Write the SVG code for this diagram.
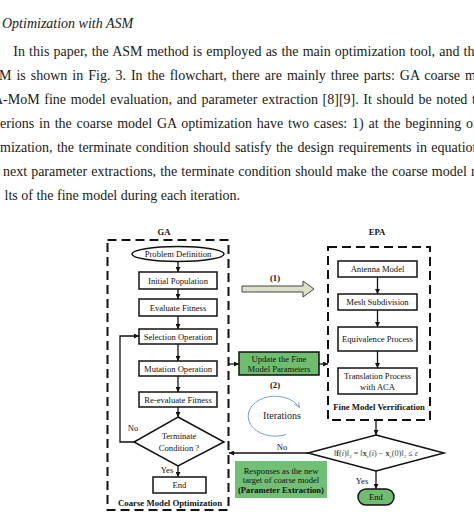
<svg xmlns="http://www.w3.org/2000/svg" width="474" height="520" viewBox="0 0 474 520">
<style>
.para{font-family:"Liberation Serif","Times New Roman",serif;font-size:14px;fill:#1a1a1a}
.t{font-family:"Liberation Serif","Times New Roman",serif;font-size:8.6px;fill:#111;text-anchor:middle}
.b{font-weight:bold}
.box{fill:#fff;stroke:#111;stroke-width:1.5}
.dash{fill:none;stroke:#111;stroke-width:2;stroke-dasharray:9 5}
.ln{fill:none;stroke:#111;stroke-width:1.3}
.green{fill:#6fbd6f;stroke:#111;stroke-width:1.5}
</style>
<defs>
<marker id="ah" viewBox="0 0 10 10" refX="10" refY="5" markerWidth="5" markerHeight="5" orient="auto" markerUnits="userSpaceOnUse">
<path d="M0,0 L10,5 L0,10 Z" fill="#111"/>
</marker>
<marker id="ahb" viewBox="0 0 10 10" refX="9" refY="5" markerWidth="6" markerHeight="6" orient="auto" markerUnits="userSpaceOnUse">
<path d="M0,1 L9,5 L0,9" fill="none" stroke="#6f93c4" stroke-width="1.2"/>
</marker>
</defs>
<rect width="474" height="520" fill="#fff"/>
<g id="paragraph">
<text class="para" x="2" y="28" font-style="italic">Optimization with ASM</text>
<text class="para" x="13.3" y="56" word-spacing="0.65">In this paper, the ASM method is employed as the main optimization tool, and the</text>
<text class="para" x="-1" y="80" word-spacing="1.5">M is shown in Fig. 3. In the flowchart, there are mainly three parts: GA coarse model</text>
<text class="para" x="-7" y="104" word-spacing="1.1">A-MoM fine model evaluation, and parameter extraction [8][9]. It should be noted that</text>
<text class="para" x="0" y="128" word-spacing="1.3">erions in the coarse model GA optimization have two cases: 1) at the beginning of</text>
<text class="para" x="0" y="152" word-spacing="0.95">mization, the terminate condition should satisfy the design requirements in equation</text>
<text class="para" x="3" y="176" word-spacing="0.55">next parameter extractions, the terminate condition should make the coarse model r</text>
<text class="para" x="4.5" y="200">lts of the fine model during each iteration.</text>
</g>
<g id="ga-frame">
<rect class="dash" x="107.5" y="240" width="121" height="270"/>
<text class="t b" x="164" y="235">GA</text>
<text class="t b" x="170" y="505.5" style="font-size:8.75px">Coarse Model Optimization</text>
</g>
<g id="epa-frame">
<rect class="dash" x="328" y="247" width="102" height="173"/>
<text class="t b" x="377" y="235">EPA</text>
<text class="t b" x="379" y="410" style="font-size:8.7px">Fine Model Verrification</text>
</g>
<g id="problem-definition"><ellipse class="box" cx="178" cy="254" rx="46" ry="7.5"/><text class="t" x="178" y="257">Problem Definition</text></g>
<g id="initial-population"><rect class="box" x="139" y="272" width="78" height="17"/><text class="t" x="178" y="283.5">Initial Population</text></g>
<g id="evaluate-fitness"><rect class="box" x="139" y="299" width="78" height="17"/><text class="t" x="178" y="310.5">Evaluate Fitness</text></g>
<g id="selection-operation"><rect class="box" x="139" y="329" width="78" height="15"/><text class="t" x="178" y="339.5">Selection Operation</text></g>
<g id="mutation-operation"><rect class="box" x="139" y="361" width="78" height="15"/><text class="t" x="178" y="371.5">Mutation Operation</text></g>
<g id="reevaluate-fitness"><rect class="box" x="139" y="392" width="78" height="15"/><text class="t" x="178" y="402.5">Re-evaluate Fitness</text></g>
<g id="terminate-condition"><polygon class="box" points="178,417 224,442 178,466 134,442"/><text class="t" x="179" y="439">Terminate</text><text class="t" x="179" y="451">Condition ?</text></g>
<g id="end-ga"><rect class="box" x="153" y="477" width="53" height="16"/><text class="t" x="179.5" y="488">End</text></g>
<g id="antenna-model"><rect class="box" x="338" y="261" width="79" height="16"/><text class="t" x="377.5" y="272">Antenna Model</text></g>
<g id="mesh-subdivision"><rect class="box" x="338" y="294" width="79" height="16"/><text class="t" x="377.5" y="305">Mesh Subdivision</text></g>
<g id="equivalence-process"><rect class="box" x="338" y="327" width="79" height="24"/><text class="t" x="377.5" y="342">Equivalence Process</text></g>
<g id="translation-process"><rect class="box" x="338" y="368" width="79" height="26"/><text class="t" x="377.5" y="379">Translation Process</text><text class="t" x="377.5" y="390">with ACA</text></g>
<g id="update-fine-model"><rect class="green" x="239" y="352" width="80" height="23"/><text class="t" x="279" y="362">Update the Fine</text><text class="t" x="279" y="372">Model Parameters</text></g>
<g id="responses"><rect x="235" y="461" width="92" height="37" fill="#72bf76"/><text class="t" x="281" y="473.5">Responses as the new</text><text class="t" x="281" y="483">target of coarse model</text><text class="t b" x="281" y="492.5">(Parameter Extraction)</text></g>
<g id="convergence-check"><polygon class="box" points="376,435 444,453 376,471 308,453"/>
<text class="t" x="376" y="456" style="font-size:8.2px;fill:#444">‖<tspan font-weight="bold">f</tspan>(<tspan font-style="italic">i</tspan>)‖<tspan font-size="5" dy="2">2</tspan><tspan dy="-2"> = ‖</tspan><tspan font-weight="bold">x</tspan><tspan font-size="5" dy="2">c</tspan><tspan dy="-2">(</tspan><tspan font-style="italic">i</tspan>) − <tspan font-weight="bold">x</tspan><tspan font-size="5" dy="2">c</tspan><tspan dy="-2">(0)‖</tspan><tspan font-size="5" dy="2">2</tspan><tspan dy="-2"> ≤ </tspan><tspan font-style="italic">ε</tspan></text></g>
<g id="end-final"><rect class="green" x="358" y="489" width="36" height="16" rx="8"/><text class="t" x="376" y="500">End</text></g>
<g id="iterations"><path d="M286,434.5 A27,20 0 1 1 299.5,407.5" fill="none" stroke="#7b9fcf" stroke-width="1" marker-end="url(#ahb)"/><text x="282" y="419" style="font-family:'Liberation Serif',serif;font-size:10px;fill:#222;text-anchor:middle">Iterations</text></g>
<g id="connectors">
<line class="ln" x1="178" y1="261.5" x2="178" y2="272" marker-end="url(#ah)"/>
<line class="ln" x1="178" y1="289" x2="178" y2="299" marker-end="url(#ah)"/>
<line class="ln" x1="178" y1="316" x2="178" y2="329" marker-end="url(#ah)"/>
<line class="ln" x1="178" y1="344" x2="178" y2="361" marker-end="url(#ah)"/>
<line class="ln" x1="178" y1="376" x2="178" y2="392" marker-end="url(#ah)"/>
<line class="ln" x1="178" y1="407" x2="178" y2="417" marker-end="url(#ah)"/>
<line class="ln" x1="178" y1="466" x2="178" y2="477" marker-end="url(#ah)"/>
<polyline class="ln" points="134,442 120,442 120,336 139,336" marker-end="url(#ah)"/>
<text class="t" x="133" y="431">No</text>
<text class="t" x="167" y="473">Yes</text>
<line class="ln" x1="377.5" y1="277" x2="377.5" y2="294" marker-end="url(#ah)"/>
<line class="ln" x1="377.5" y1="310" x2="377.5" y2="327" marker-end="url(#ah)"/>
<line class="ln" x1="377.5" y1="351" x2="377.5" y2="368" marker-end="url(#ah)"/>
<line class="ln" x1="376" y1="420" x2="376" y2="435" marker-end="url(#ah)"/>
<line class="ln" x1="228.5" y1="364" x2="239" y2="364" marker-end="url(#ah)"/>
<line class="ln" x1="319" y1="364" x2="328" y2="364" marker-end="url(#ah)"/>
<line class="ln" x1="308" y1="453" x2="229" y2="453" marker-end="url(#ah)"/>
<text class="t" x="282" y="450">No</text>
<line class="ln" x1="376" y1="471" x2="376" y2="489" marker-end="url(#ah)"/>
<text class="t" x="362" y="484">Yes</text>
<path d="M242,286 H303 V281 L314,289 L303,297 V292 H242 Z" fill="#dde0c9" stroke="#444" stroke-width="1"/>
<text class="t b" x="275" y="281">(1)</text>
<text class="t b" x="275" y="388">(2)</text>
</g>
</svg>
